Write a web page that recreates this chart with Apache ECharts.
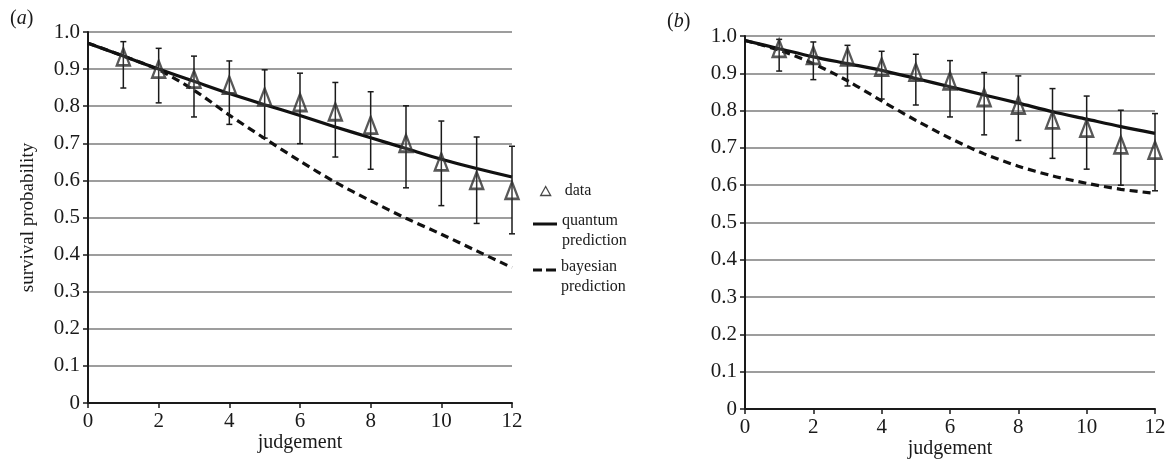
<!DOCTYPE html>
<html>
<head>
<meta charset="utf-8">
<script src="https://cdn.jsdelivr.net/npm/echarts@6/dist/echarts.min.js"></script>
<style>
html,body{margin:0;padding:0;background:#fff;}
#chart{width:1169px;height:462px;}
</style>
</head>
<body>
<div id="chart"></div>
<script>
// ---- data ----
const judgements = [0,1,2,3,4,5,6,7,8,9,10,11,12];
const trials = [1,2,3,4,5,6,7,8,9,10,11,12];

// panel (a)
const dataA     = [0.933,0.900,0.873,0.857,0.825,0.810,0.785,0.749,0.700,0.650,0.600,0.573];
const errLowA   = [0.849,0.809,0.771,0.751,0.714,0.699,0.663,0.630,0.580,0.532,0.484,0.456];
const errHighA  = [0.974,0.956,0.935,0.922,0.898,0.889,0.864,0.839,0.801,0.760,0.717,0.692];
const quantumA  = [0.970,0.935,0.900,0.867,0.834,0.804,0.775,0.744,0.715,0.686,0.657,0.632,0.609];
const bayesA    = [0.970,0.935,0.898,0.843,0.776,0.713,0.652,0.595,0.545,0.498,0.455,0.410,0.365];

// panel (b)
const dataB     = [0.967,0.948,0.944,0.917,0.903,0.880,0.835,0.815,0.775,0.753,0.708,0.694];
const errLowB   = [0.906,0.883,0.866,0.831,0.815,0.783,0.735,0.720,0.672,0.643,0.600,0.585];
const errHighB  = [0.991,0.984,0.975,0.959,0.951,0.934,0.902,0.893,0.859,0.839,0.801,0.792];
const quantumB  = [0.988,0.966,0.944,0.926,0.908,0.886,0.864,0.842,0.820,0.797,0.777,0.757,0.739];
const bayesB    = [0.988,0.962,0.926,0.880,0.826,0.774,0.726,0.684,0.651,0.625,0.605,0.589,0.578];

const panelLabels = ['a','b'];
const xAxisName = 'judgement';
const yAxisName = 'survival probability';
const legendNames = ['data','quantum prediction','bayesian prediction'];

// ---- styles ----
const FONT = '"Liberation Serif", "Times New Roman", serif';
const INK = '#1a1a1a';
const GRID = '#9d9d9d';

function pairs(xs, ys){ return xs.map((x,i)=>[x, ys[i]]); }
function errData(lo, hi){ return trials.map((x,i)=>[x, lo[i], hi[i]]); }

function renderErr(params, api){
  const x = api.value(0), lo = api.value(1), hi = api.value(2);
  const p1 = api.coord([x, lo]), p2 = api.coord([x, hi]);
  const c = 3;
  const st = {stroke: INK, lineWidth: 1.5};
  return {type:'group', children:[
    {type:'line', shape:{x1:p1[0], y1:p1[1], x2:p2[0], y2:p2[1]}, style:st},
    {type:'line', shape:{x1:p1[0]-c, y1:p1[1], x2:p1[0]+c, y2:p1[1]}, style:st},
    {type:'line', shape:{x1:p2[0]-c, y1:p2[1], x2:p2[0]+c, y2:p2[1]}, style:st}
  ]};
}

const grids = [
  {left:88, top:32, width:424, height:371, outerBoundsMode:'none', containLabel:false},
  {left:745, top:36, width:410, height:373, outerBoundsMode:'none', containLabel:false}
];

function xAxisCfg(i, gap){
  return {
    gridIndex:i, type:'value', min:0, max:12, interval:2,
    name:xAxisName, nameLocation:'middle', nameGap:gap, nameMoveOverlap:false,
    nameTextStyle:{fontFamily:FONT, fontSize:20, color:INK},
    axisLine:{show:true, lineStyle:{color:INK, width:2}},
    axisTick:{show:true, length:5, lineStyle:{color:INK, width:1.5}},
    axisLabel:{fontFamily:FONT, fontSize:21, color:INK, margin:8},
    splitLine:{show:false}
  };
}
function yAxisCfg(i, withName){
  const c = {
    gridIndex:i, type:'value', min:0, max:1, interval:0.1,
    axisLine:{show:true, onZero:false, lineStyle:{color:INK, width:2}},
    axisTick:{show:true, length:5, lineStyle:{color:INK, width:1.5}},
    axisLabel:{fontFamily:FONT, fontSize:21, color:INK, margin:8,
      formatter: v => (Math.abs(v) < 1e-9 ? '0' : v.toFixed(1))},
    splitLine:{show:true, lineStyle:{color:GRID, width:2}}
  };
  if (withName){
    c.name = yAxisName; c.nameLocation = 'middle'; c.nameGap = 50; c.nameMoveOverlap = false;
    c.nameTextStyle = {fontFamily:FONT, fontSize:19, color:INK};
  }
  return c;
}

const panels = [
  {data:dataA, lo:errLowA, hi:errHighA, q:quantumA, b:bayesA},
  {data:dataB, lo:errLowB, hi:errHighB, q:quantumB, b:bayesB}
];

const series = [];
panels.forEach((p, i) => {
  series.push({
    name:legendNames[1], type:'line', xAxisIndex:i, yAxisIndex:i,
    data:pairs(judgements, p.q), symbol:'none', showSymbol:false, smooth:0.3,
    lineStyle:{color:'#111', width:3.2}, itemStyle:{color:'#111'}, z:3, silent:true
  });
  series.push({
    name:legendNames[2], type:'line', xAxisIndex:i, yAxisIndex:i,
    data:pairs(judgements, p.b), symbol:'none', showSymbol:false, smooth:0.3,
    lineStyle:{color:'#111', width:3.2, type:[8,5]}, itemStyle:{color:'#111'}, z:3, silent:true
  });
  series.push({
    name:'error'+i, type:'custom', xAxisIndex:i, yAxisIndex:i,
    data:errData(p.lo, p.hi), renderItem:renderErr,
    encode:{x:0, y:[1,2]}, z:4, silent:true
  });
  series.push({
    name:legendNames[0], type:'scatter', xAxisIndex:i, yAxisIndex:i,
    data:pairs(trials, p.data), symbol:'triangle', symbolSize:[13,17],
    itemStyle:{color:'rgba(255,255,255,0.15)', borderColor:'#2e2e2e', borderWidth:2.5},
    z:5, silent:true
  });
});

const legendRich = {
  s:{fontFamily:FONT, fontSize:16, lineHeight:14, color:INK},
  a:{fontFamily:FONT, fontSize:16, lineHeight:20, color:INK}
};
function twoLine(n){
  const parts = n.split(' ');
  return '{s| }\n{a|' + parts[0] + '}\n{a|' + parts[1] + '}';
}

const option = {
  animation:false,
  backgroundColor:'#fff',
  title: panelLabels.map((t, i) => ({
    text:'({it|' + t + '})',
    left: i === 0 ? 10 : 667, top: i === 0 ? 9 : 12, padding:0,
    textStyle:{fontFamily:FONT, fontSize:20, fontWeight:'normal', color:INK,
      rich:{it:{fontFamily:FONT, fontSize:20, fontStyle:'italic', color:INK}}}
  })),
  grid: grids,
  xAxis: [xAxisCfg(0, 30), xAxisCfg(1, 30)],
  yAxis: [yAxisCfg(0, true), yAxisCfg(1, false)],
  legend: [
    {data:[{name:legendNames[0], icon:'triangle',
            itemStyle:{color:'#fff', borderColor:INK, borderWidth:1.3}}],
     left:540, top:181, padding:0, itemWidth:10, itemHeight:9, selectedMode:false,
     textStyle:{fontFamily:FONT, fontSize:16, color:INK, lineHeight:20, padding:[0,0,0,9]}},
    {data:[{name:legendNames[1], icon:'rect', itemStyle:{color:'#111', borderWidth:0}}],
     left:533, top:196, padding:0, itemWidth:24, itemHeight:3,
     selectedMode:false, formatter: twoLine,
     textStyle:{fontFamily:FONT, fontSize:16, color:INK, rich:legendRich}},
    {data:[{name:legendNames[2], icon:'path://M0,0h9v3h-9zM13,0h10v3h-10z',
            itemStyle:{color:'#111', borderWidth:0}}],
     left:533, top:242, padding:0, itemWidth:23, itemHeight:3,
     selectedMode:false, formatter: twoLine,
     textStyle:{fontFamily:FONT, fontSize:16, color:INK, rich:legendRich}}
  ],
  series: series
};

const chart = echarts.init(document.getElementById('chart'), null, {renderer:'canvas'});
chart.setOption(option);
</script>
</body>
</html>
